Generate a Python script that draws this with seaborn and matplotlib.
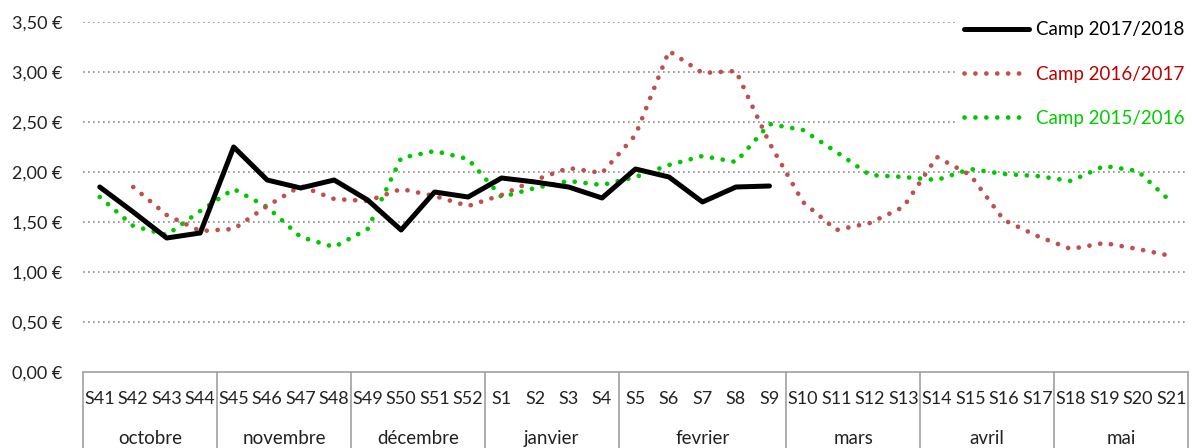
import matplotlib
matplotlib.use("Agg")
import matplotlib.pyplot as plt
import matplotlib.transforms as mtransforms
import seaborn as sns
import numpy as np

weeks = ['S41', 'S42', 'S43', 'S44', 'S45', 'S46', 'S47', 'S48', 'S49', 'S50', 'S51', 'S52',
         'S1', 'S2', 'S3', 'S4', 'S5', 'S6', 'S7', 'S8', 'S9',
         'S10', 'S11', 'S12', 'S13', 'S14', 'S15', 'S16', 'S17', 'S18', 'S19', 'S20', 'S21']
months = ['octobre', 'novembre', 'décembre', 'janvier', 'fevrier', 'mars', 'avril', 'mai']
month_sizes = [4, 4, 4, 4, 5, 4, 4, 4]

# S41 -> S9
camp_1718 = [1.85, 1.60, 1.34, 1.39, 2.25, 1.92, 1.84, 1.92, 1.72, 1.42, 1.80, 1.75,
             1.94, 1.90, 1.85, 1.74, 2.03, 1.95, 1.70, 1.85, 1.86]
# S42 -> S21
camp_1617 = [1.85, 1.57, 1.41, 1.43, 1.66, 1.86, 1.73, 1.71, 1.83, 1.76, 1.66,
             1.77, 1.92, 2.04, 1.99, 2.37, 3.21, 2.99, 3.01, 2.29,
             1.70, 1.42, 1.49, 1.65, 2.15, 1.97, 1.52, 1.36, 1.23, 1.29, 1.23, 1.16]
# S41 -> S21
camp_1516 = [1.75, 1.46, 1.37, 1.61, 1.83, 1.65, 1.35, 1.25, 1.43, 2.14, 2.21, 2.13,
             1.75, 1.84, 1.91, 1.87, 1.95, 2.07, 2.16, 2.10, 2.48,
             2.42, 2.20, 1.97, 1.95, 1.92, 2.03, 1.98, 1.96, 1.91, 2.06, 2.01, 1.70]

sns.set_style("white")
plt.rcParams['font.family'] = ['Lato', 'DejaVu Sans']

W, H = 1192, 448
fig = plt.figure(figsize=(W / 100, H / 100), dpi=100)
ax = fig.add_axes([83 / W, (H - 372) / H, (1188 - 83) / W, 350 / H])

dot = (0, (0.01, 2.3))
sns.lineplot(x=np.arange(len(camp_1516)), y=camp_1516, ax=ax, color='#00C800',
             linewidth=3.4, linestyle=dot, dash_capstyle='round', label='Camp 2015/2016')
sns.lineplot(x=np.arange(1, 1 + len(camp_1617)), y=camp_1617, ax=ax, color='#C0504D',
             linewidth=3.4, linestyle=dot, dash_capstyle='round', label='Camp 2016/2017')
sns.lineplot(x=np.arange(len(camp_1718)), y=camp_1718, ax=ax, color='black',
             linewidth=3.6, label='Camp 2017/2018')

ax.set_xlim(-0.5, len(weeks) - 0.5)
ax.set_ylim(0, 3.5)
yt = np.arange(0, 3.51, 0.5)
ax.set_yticks(yt)
ax.set_yticklabels([f"{v:.2f} €".replace('.', ',') for v in yt], fontsize=13, color='#222222')
for v in yt[1:]:
    ax.axhline(v, color='#8c8c8c', linewidth=1.2, linestyle=(0, (1, 2)), zorder=0)
ax.set_xticks(np.arange(len(weeks)))
ax.set_xticklabels(weeks, fontsize=13, color='#222222')
ax.tick_params(axis='both', length=0)
ax.tick_params(axis='x', pad=14)
ax.tick_params(axis='y', pad=15)
ax.set_xlabel('')
ax.set_ylabel('')
for s in ['top', 'right', 'left']:
    ax.spines[s].set_visible(False)
ax.spines['bottom'].set_color('#a0a0a0')
ax.spines['bottom'].set_linewidth(1.2)

# month groups under the week labels
trans = mtransforms.blended_transform_factory(ax.transData, ax.transAxes)
bounds = np.concatenate([[0], np.cumsum(month_sizes)]) - 0.5
for b in bounds:
    ax.plot([b, b], [0, -0.25], transform=trans, color='#a0a0a0', linewidth=1.2, clip_on=False)
for name, lo, hi in zip(months, bounds[:-1], bounds[1:]):
    ax.text((lo + hi) / 2, -0.19, name, transform=trans, ha='center', va='center',
            fontsize=13.5, color='#222222')

handles, labels = ax.get_legend_handles_labels()
order = [2, 1, 0]
leg = ax.legend([handles[i] for i in order], [labels[i] for i in order],
                loc='upper right', bbox_to_anchor=(1192 / W, 434 / H),
                bbox_transform=fig.transFigure, fontsize=13.5, handlelength=3.5,
                handletextpad=0.35, labelspacing=1.45, frameon=True, borderpad=0.4,
                borderaxespad=0)
leg.get_frame().set_facecolor('white')
leg.get_frame().set_edgecolor('none')
leg.get_frame().set_alpha(1)
for txt, c in zip(leg.get_texts(), ['black', '#C00000', '#00CC00']):
    txt.set_color(c)

fig.savefig('out.png', dpi=100)
